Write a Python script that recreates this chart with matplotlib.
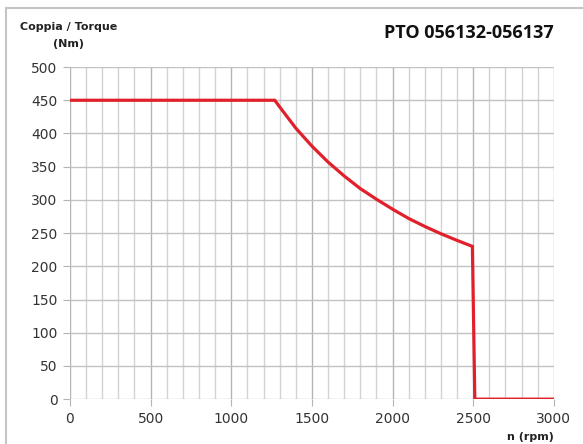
import matplotlib
matplotlib.use("Agg")
import matplotlib.pyplot as plt
from matplotlib.patches import Rectangle

# torque curve
rpm = [0, 1270, 1300, 1400, 1500, 1600, 1700, 1800, 1900, 2000,
       2100, 2200, 2300, 2400, 2495, 2510, 3000]
torque = [450, 450, 440, 408, 381, 357, 336, 317, 301, 286,
          272, 260, 249, 239, 230, 0, 0]

x_ticks = [0, 500, 1000, 1500, 2000, 2500, 3000]
y_ticks = list(range(0, 501, 50))

fig = plt.figure(figsize=(5.83, 4.44), dpi=100)
ax = fig.add_axes([0.120, 0.101, 0.830, 0.748])

# frame around the whole picture
fig.patches.append(Rectangle((6 / 583, -0.05), 1.1, (444 - 8) / 444 + 0.05,
                             transform=fig.transFigure, fill=False,
                             edgecolor="#c4c4c4", linewidth=1.5))

# grid: every 100 rpm, darker every 500
for x in range(0, 3001, 100):
    c = "#b4b4b4" if x % 500 == 0 else "#d2d2d2"
    ax.axvline(x, color=c, linewidth=1.0, zorder=1)
for y in y_ticks:
    ax.axhline(y, color="#c2c2c2", linewidth=1.0, zorder=1)

ax.plot(rpm, torque, color="#e2202c", linewidth=2.3, zorder=3,
        solid_joinstyle="miter")

ax.set_xlim(0, 3000)
ax.set_ylim(0, 500)
ax.set_xticks(x_ticks)
ax.set_yticks(y_ticks)
for s in ax.spines.values():
    s.set_visible(False)
ax.tick_params(axis="both", direction="out", length=5, color="#b4b4b4",
               labelsize=10, labelcolor="#333333", pad=4)

fig.text(0.117, 0.939, "Coppia / Torque", ha="center", va="center",
         fontsize=8, fontweight="bold", color="#222222")
fig.text(0.117, 0.902, "(Nm)", ha="center", va="center",
         fontsize=8, fontweight="bold", color="#222222")
fig.text(0.950, 0.925, "PTO 056132-056137", ha="right", va="center",
         fontsize=13, fontweight="bold", family="Open Sans", color="#111111")
fig.text(0.950, 0.016, "n (rpm)", ha="right", va="center",
         fontsize=8, fontweight="bold", color="#222222")

fig.savefig("out.png", dpi=100)
